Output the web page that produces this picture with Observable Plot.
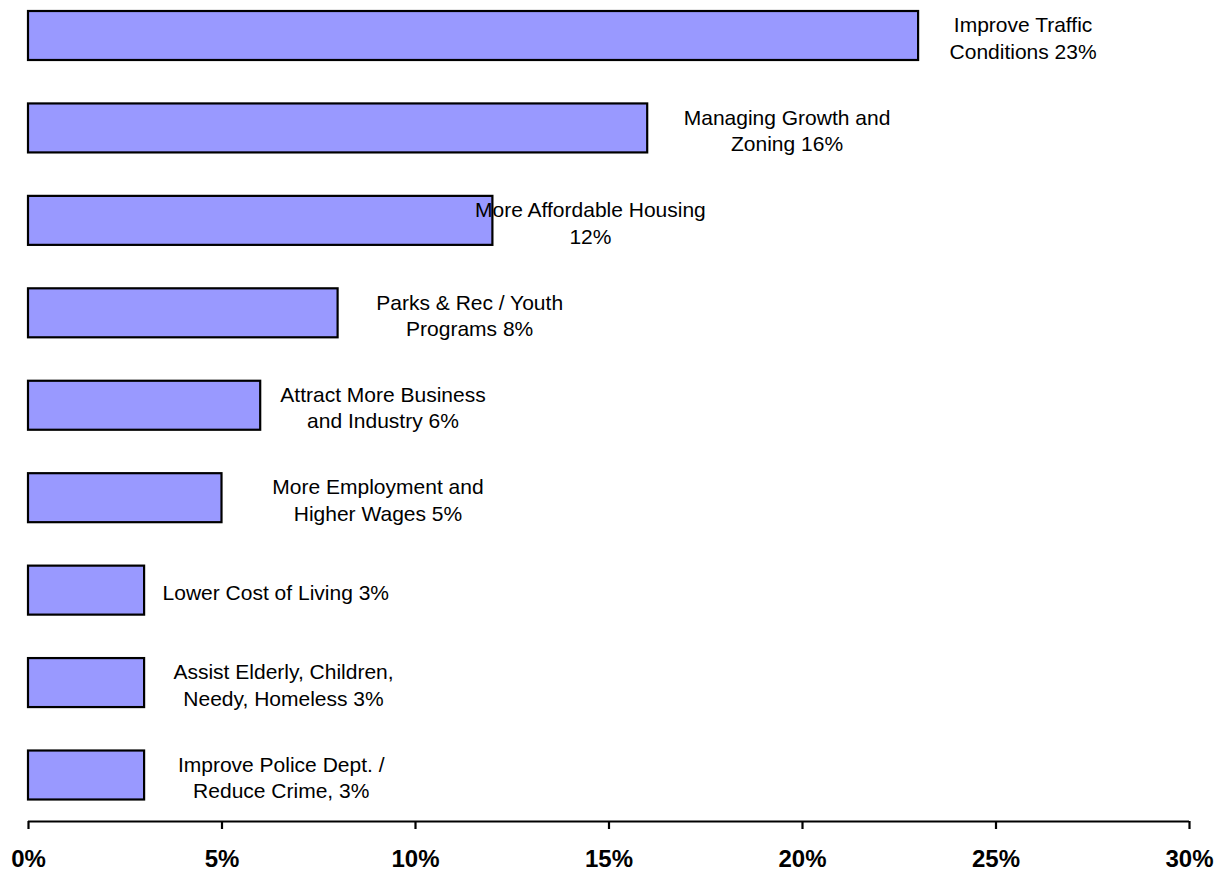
<!DOCTYPE html>
<html>
<head>
<meta charset="utf-8">
<script src="https://cdn.jsdelivr.net/npm/d3@7"></script>
<script src="https://cdn.jsdelivr.net/npm/@observablehq/plot@0.6"></script>
<style>
  html, body { margin: 0; padding: 0; background: #ffffff; }
  #chart { width: 1225px; height: 873px; }
</style>
</head>
<body>
<div id="chart"></div>
<script>
// Categories, top to bottom
const categories = [
  "Improve Traffic Conditions",
  "Managing Growth and Zoning",
  "More Affordable Housing",
  "Parks & Rec / Youth Programs",
  "Attract More Business and Industry",
  "More Employment and Higher Wages",
  "Lower Cost of Living",
  "Assist Elderly, Children, Needy, Homeless",
  "Improve Police Dept. / Reduce Crime"
];
// Share of responses (%)
const values = [23, 16, 12, 8, 6, 5, 3, 3, 3];
// Data labels as shown in the chart
const labels = [
  "Improve Traffic\nConditions 23%",
  "Managing Growth and\nZoning 16%",
  "More Affordable Housing\n12%",
  "Parks & Rec / Youth\nPrograms 8%",
  "Attract More Business\nand Industry 6%",
  "More Employment and\nHigher Wages 5%",
  "Lower Cost of Living 3%",
  "Assist Elderly, Children,\nNeedy, Homeless 3%",
  "Improve Police Dept. /\nReduce Crime, 3%"
];
// Label anchor (center) on the x scale, in % units, as placed in the original
const labelX = [25.7, 19.6, 14.52, 11.4, 9.16, 9.03, 6.39, 6.59, 6.53];
// X axis ticks
const xTicks = [0, 5, 10, 15, 20, 25, 30];

const table = categories.map((c, i) => ({
  category: c, value: values[i], label: labels[i], lx: labelX[i]
}));

const chart = Plot.plot({
  width: 1225,
  height: 873,
  marginLeft: 28,
  marginRight: 36,
  marginTop: 0,
  marginBottom: 52,
  style: {
    fontFamily: "Arial, 'Liberation Sans', sans-serif",
    background: "#ffffff",
    color: "#000000"
  },
  x: { domain: [0, 30] },
  y: {
    type: "band",
    domain: categories,
    paddingInner: 0.47,
    paddingOuter: 0.119,
    insetBottom: 10.5,
    round: false,
    axis: null
  },
  marks: [
    Plot.barX(table, {
      x: "value",
      y: "category",
      fill: "#9999ff",
      stroke: "#000000",
      strokeWidth: 2.2
    }),
    Plot.text(table, {
      x: "lx",
      y: "category",
      text: "label",
      textAnchor: "middle",
      lineAnchor: "middle",
      lineHeight: 1.26,
      fontSize: 21,
      fill: "#000000",
      dy: 1
    }),
    // axis baseline, just below the last band
    Plot.ruleY([categories[categories.length - 1]], {
      x1: xTicks[0],
      x2: xTicks[xTicks.length - 1],
      stroke: "#000000",
      strokeWidth: 2.2,
      dy: 46
    }),
    Plot.axisX({
      ticks: xTicks,
      tickFormat: d => d + "%",
      tickSize: 8,
      tickPadding: 20,
      fontSize: 24,
      fontWeight: "bold",
      stroke: "#000000",
      strokeWidth: 2.2,
      fill: "#000000",
      label: null
    })
  ]
});

document.getElementById("chart").appendChild(chart);
</script>
</body>
</html>
